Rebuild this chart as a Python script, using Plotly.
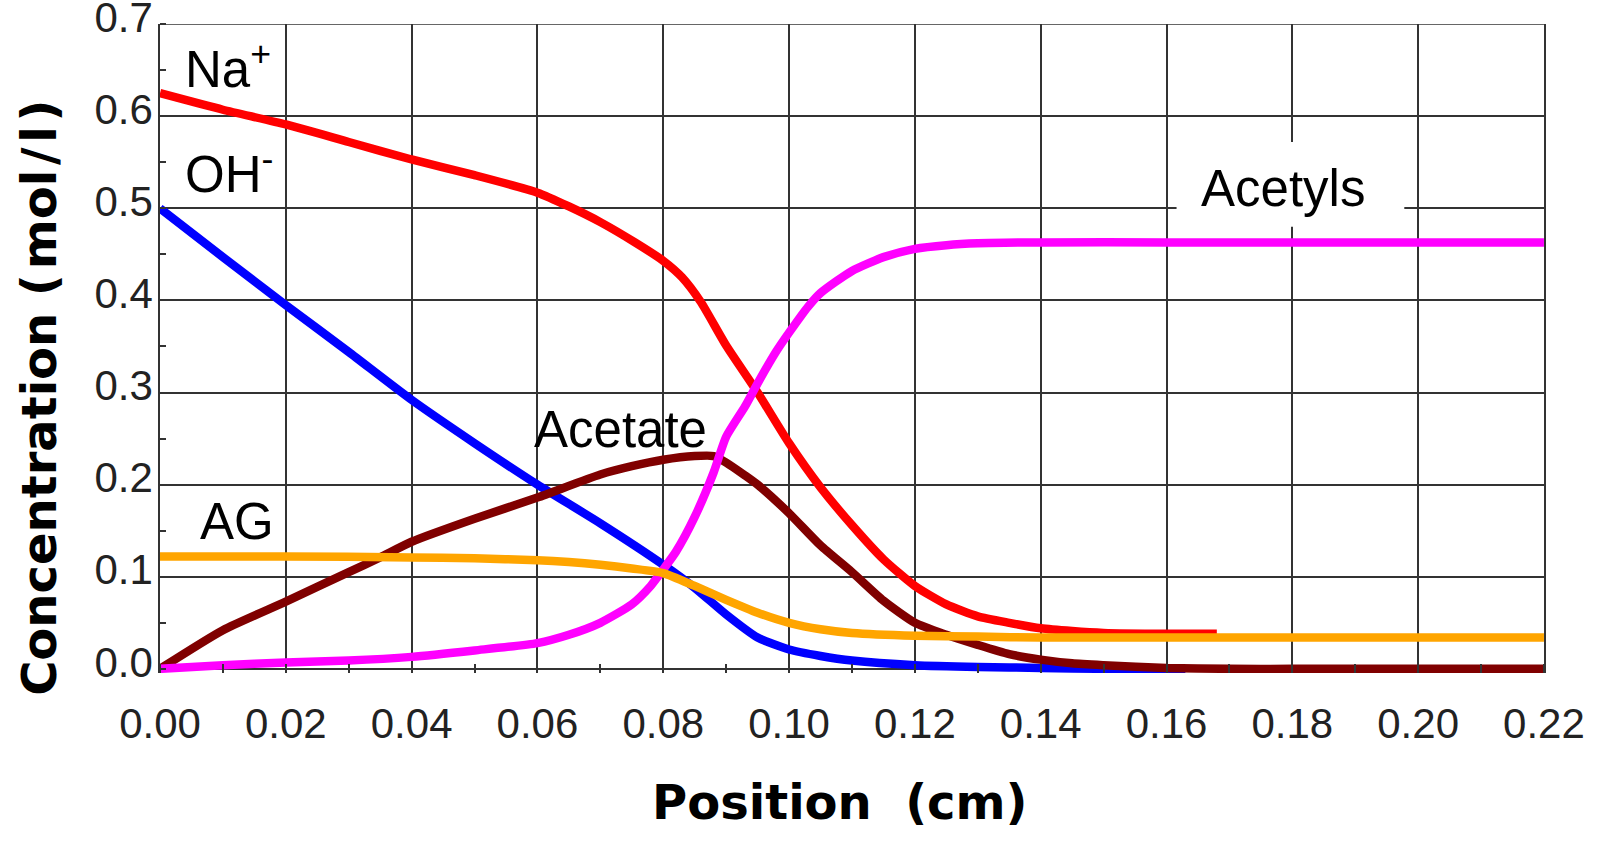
import plotly.graph_objects as go

# ---- data ----
na_x = [0, 0.01, 0.02, 0.03, 0.04, 0.05, 0.06, 0.065, 0.07, 0.0755, 0.08, 0.083, 0.086, 0.09,
        0.095, 0.10, 0.105, 0.11, 0.115, 0.12, 0.125, 0.13, 0.135, 0.14, 0.145, 0.15, 0.16, 0.168]
na_y = [0.625, 0.607, 0.591, 0.572, 0.553, 0.536, 0.517, 0.502, 0.485, 0.463, 0.443, 0.425, 0.398, 0.351,
        0.300, 0.245, 0.197, 0.156, 0.119, 0.090, 0.070, 0.057, 0.050, 0.044, 0.041, 0.039, 0.038, 0.038]

oh_x = [0, 0.01, 0.02, 0.03, 0.04, 0.05, 0.06, 0.07, 0.08, 0.085, 0.09, 0.095, 0.10, 0.105,
        0.11, 0.12, 0.13, 0.14, 0.15, 0.163]
oh_y = [0.500, 0.447, 0.395, 0.344, 0.292, 0.245, 0.200, 0.158, 0.113, 0.088, 0.059, 0.034, 0.021, 0.014,
        0.009, 0.004, 0.002, 0.001, 0.0, 0.0]

acetate_x = [0, 0.01, 0.02, 0.03, 0.035, 0.04, 0.05, 0.06, 0.07, 0.075, 0.08, 0.085, 0.088, 0.09,
             0.093, 0.095, 0.10, 0.105, 0.11, 0.115, 0.12, 0.125, 0.13, 0.135, 0.14, 0.145, 0.15,
             0.16, 0.17, 0.18, 0.19, 0.20, 0.21, 0.22]
acetate_y = [0.0, 0.042, 0.073, 0.105, 0.121, 0.138, 0.163, 0.186, 0.211, 0.220, 0.227, 0.231, 0.231, 0.224,
             0.210, 0.200, 0.169, 0.134, 0.105, 0.074, 0.050, 0.037, 0.026, 0.016, 0.010, 0.006, 0.004,
             0.001, 0.0, 0.0, 0.0, 0.0, 0.0, 0.0]

acetyls_x = [0, 0.01, 0.02, 0.03, 0.04, 0.05, 0.06, 0.065, 0.07, 0.075, 0.078, 0.08, 0.082, 0.085,
             0.088, 0.09, 0.093, 0.095, 0.098, 0.10, 0.103, 0.105, 0.11, 0.115, 0.12, 0.125, 0.13,
             0.14, 0.16, 0.18, 0.20, 0.22]
acetyls_y = [0.0, 0.004, 0.007, 0.009, 0.013, 0.020, 0.028, 0.037, 0.050, 0.070, 0.090, 0.108, 0.127, 0.165,
             0.213, 0.252, 0.285, 0.310, 0.345, 0.365, 0.393, 0.408, 0.432, 0.447, 0.456, 0.460, 0.462,
             0.463, 0.463, 0.463, 0.463, 0.463]

ag_x = [0, 0.02, 0.04, 0.05, 0.06, 0.065, 0.07, 0.075, 0.08, 0.085, 0.09, 0.095, 0.10, 0.105,
        0.11, 0.12, 0.13, 0.14, 0.16, 0.18, 0.20, 0.22]
ag_y = [0.122, 0.122, 0.121, 0.120, 0.118, 0.116, 0.113, 0.109, 0.104, 0.090, 0.075, 0.061, 0.050, 0.043,
        0.039, 0.036, 0.035, 0.034, 0.034, 0.034, 0.034, 0.034]

x_ticks = [0.00, 0.02, 0.04, 0.06, 0.08, 0.10, 0.12, 0.14, 0.16, 0.18, 0.20, 0.22]
y_ticks = [0.0, 0.1, 0.2, 0.3, 0.4, 0.5, 0.6, 0.7]

series = [
    ("Na+", na_x, na_y, "#FF0000"),
    ("OH-", oh_x, oh_y, "#0000FF"),
    ("Acetate", acetate_x, acetate_y, "#800000"),
    ("Acetyls", acetyls_x, acetyls_y, "#FF00FF"),
    ("AG", ag_x, ag_y, "#FFA500"),
]

fig = go.Figure()
for name, xs, ys, col in series:
    fig.add_trace(go.Scatter(x=xs, y=ys, mode="lines", name=name,
                             line=dict(color=col, width=8.5, shape="spline", smoothing=0.6),
                             showlegend=False))

grid = "#333333"
tickfont = dict(family="Liberation Sans, Arial, sans-serif", size=42, color="#222222")
labfont = dict(family="Liberation Sans, Arial, sans-serif", size=51, color="#000000")
titlefont = dict(family="DejaVu Sans, Verdana, sans-serif", size=48, color="#000000")

fig.update_layout(
    width=1603, height=848,
    margin=dict(l=160, r=59, t=24, b=175),
    paper_bgcolor="white", plot_bgcolor="white",
    xaxis=dict(range=[0, 0.22001], tickvals=x_ticks, ticktext=[f"{v:.2f}" for v in x_ticks],
               showgrid=True, gridcolor=grid, gridwidth=1.5, zeroline=False, showline=False,
               ticks="", tickfont=tickfont, ticklabelstandoff=22, ticklabeloverflow="allow",
               automargin=False,
               minor=dict(dtick=0.01, tick0=0.01, ticks="inside", ticklen=9, tickcolor=grid,
                          tickwidth=1.5, showgrid=False)),
    yaxis=dict(range=[-0.0045, 0.7001], tickvals=y_ticks, ticktext=[f"{v:.1f}" for v in y_ticks],
               showgrid=True, gridcolor=grid, gridwidth=1.5, zeroline=True, zerolinecolor=grid,
               zerolinewidth=1.5, showline=True, mirror=True, linecolor=grid, linewidth=1.5,
               ticks="", tickfont=tickfont, ticklabelstandoff=-3, ticklabelshift=-7,
               ticklabeloverflow="allow", automargin=False,
               minor=dict(dtick=0.05, tick0=0.05, ticks="inside", ticklen=6, tickcolor=grid,
                          tickwidth=1.5, showgrid=False)),
)

# top grid line at 0.7 (plotly drops the grid line that sits on the plot edge)
fig.add_shape(type="line", xref="x", yref="y", x0=0, x1=0.22, y0=y_ticks[-1], y1=y_ticks[-1],
              line=dict(color=grid, width=1.5), layer="below")

# white box behind the "Acetyls" label
fig.add_shape(type="rect", xref="x", yref="y", x0=0.1616, x1=0.1978, y0=0.480, y1=0.572,
              fillcolor="white", line=dict(width=0), layer="above")

labels = [
    ("Na<sup>+</sup>", 0.0037, 0.654),
    ("OH<sup>-</sup>", 0.0037, 0.540),
    ("AG", 0.006, 0.160),
    ("Acetate", 0.0592, 0.260),
    ("Acetyls", 0.1652, 0.522),
]
for txt, x, y in labels:
    fig.add_annotation(x=x, y=y, xref="x", yref="y", text=txt, showarrow=False,
                       xanchor="left", yanchor="middle", font=labfont)

fig.add_annotation(text="<b>Position  (cm)</b>", xref="paper", yref="paper",
                   x=0.491, y=-0.198, xanchor="center", yanchor="middle",
                   showarrow=False, font=titlefont)
fig.add_annotation(text="<b>Concentration (\u200amol\u200a/\u200al\u200a)</b>", xref="paper", yref="paper",
                   x=-0.0874, y=0.424, xanchor="center", yanchor="middle", textangle=-90,
                   showarrow=False, font=titlefont)

fig.write_html("out.html")
